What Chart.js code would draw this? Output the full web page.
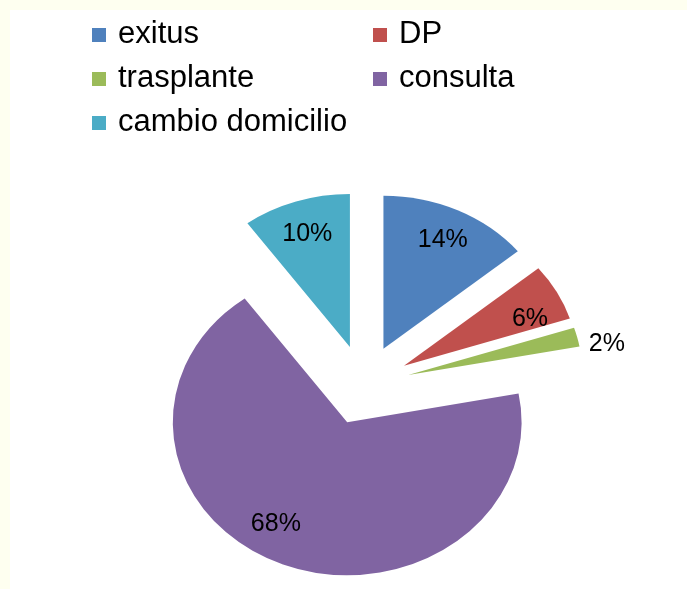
<!DOCTYPE html>
<html>
<head>
<meta charset="utf-8">
<script src="https://cdn.jsdelivr.net/npm/chart.js"></script>
<style>
  body { margin: 0; background: #fefff0; }
  .marco { position: absolute; left: 10px; top: 10px; width: 677px; height: 579px; background: #fff; }
</style>
</head>
<body>
<div class="marco"><canvas id="motivos" width="677" height="579"></canvas></div>
<script>
const categorias = ['exitus', 'DP', 'trasplante', 'consulta', 'cambio domicilio'];
const porcentajes = [14, 6, 2, 68, 10];
const colores = ['#4F81BD', '#C0504D', '#9BBB59', '#8064A2', '#4BACC6'];

// ajustes de las etiquetas: fraccion del radio y giro en grados
const etiquetaRadio = [0.8, 0.79, 1.16, 0.77, 0.79];
const etiquetaGiro = [0, 5, 3.6, 10.5, 0];

const estiramiento = 1.14; // la tarta del original sale ovalada
const separacion = 40;
const fuente = '"Liberation Sans", Arial, sans-serif';

const tartaSeparada = {
  id: 'tartaSeparada',
  beforeDatasetDraw(chart, args) {
    const ctx = chart.ctx;
    args.meta.data.forEach(function(arc) {
      const mid = (arc.startAngle + arc.endAngle) / 2;
      ctx.save();
      ctx.translate(arc.x, arc.y);
      ctx.scale(estiramiento, 1);
      ctx.translate(Math.cos(mid) * separacion - arc.x, Math.sin(mid) * separacion - arc.y);
      arc.draw(ctx);
      ctx.restore();
    });
    return false;
  },
  afterDraw(chart) {
    const ctx = chart.ctx;
    ctx.save();

    // porcentajes
    ctx.font = '25px ' + fuente;
    ctx.fillStyle = '#000';
    ctx.textAlign = 'center';
    ctx.textBaseline = 'alphabetic';
    chart.getDatasetMeta(0).data.forEach(function(arc, i) {
      const mid = (arc.startAngle + arc.endAngle) / 2;
      const ang = mid + etiquetaGiro[i] * Math.PI / 180;
      const d = arc.outerRadius * etiquetaRadio[i];
      const x = arc.x + estiramiento * (Math.cos(mid) * separacion + Math.cos(ang) * d);
      const y = arc.y + Math.sin(mid) * separacion + Math.sin(ang) * d;
      ctx.fillText(porcentajes[i] + '%', x, y + 9);
    });

    // leyenda en dos columnas
    ctx.font = '31px ' + fuente;
    ctx.textAlign = 'left';
    categorias.forEach(function(nombre, i) {
      const col = i % 2;
      const fila = Math.floor(i / 2);
      const x = col === 0 ? 82 : 363;
      const y = 33 + fila * 44;
      ctx.fillStyle = colores[i];
      ctx.fillRect(x, y - 15, 14, 14);
      ctx.fillStyle = '#000';
      ctx.fillText(nombre, x + 26, y);
    });

    ctx.restore();
  }
};

const ctx = document.getElementById('motivos');

new Chart(ctx, {
  type: 'pie',
  data: {
    labels: categorias,
    datasets: [{
      data: porcentajes,
      backgroundColor: colores,
      borderWidth: 0,
      radius: 153
    }]
  },
  options: {
    responsive: false,
    animation: false,
    layout: {
      padding: { left: 31, right: 0, top: 171, bottom: 0 }
    },
    plugins: {
      legend: { display: false },
      tooltip: { enabled: false }
    }
  },
  plugins: [tartaSeparada]
});
</script>
</body>
</html>
